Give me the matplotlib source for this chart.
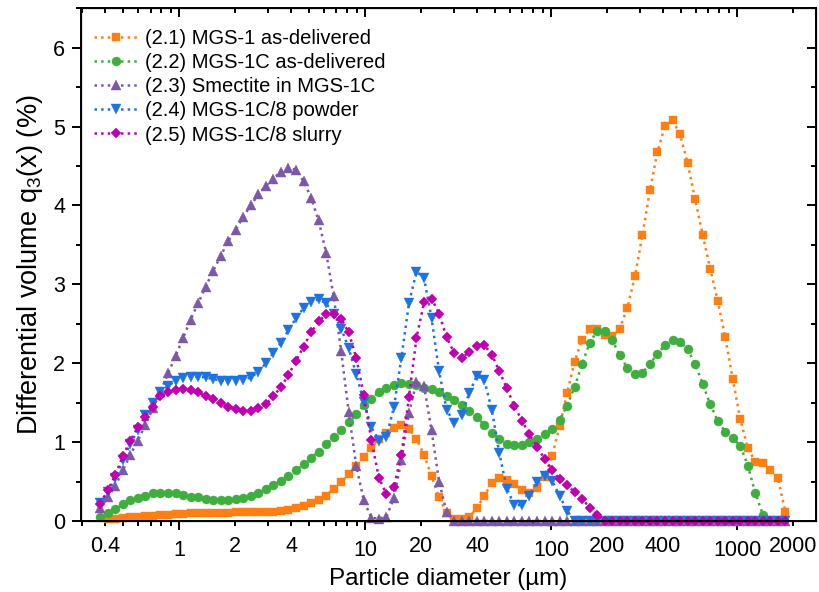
import matplotlib
matplotlib.use("Agg")  # headless backend
import matplotlib.pyplot as plt
import numpy as np
from matplotlib.ticker import FixedLocator, FuncFormatter, MultipleLocator, NullFormatter

plt.rcParams["font.family"] = ["Liberation Sans", "DejaVu Sans"]
plt.rcParams["mathtext.fontset"] = "custom"
plt.rcParams["mathtext.rm"] = "Liberation Sans"
plt.rcParams["mathtext.it"] = "Liberation Sans:italic"

nan = np.nan

# ---- data: particle size channels (um) and q3 values (%) ----
diameter = [
    0.375, 0.412, 0.452, 0.496, 0.545, 0.598, 0.657, 0.721, 0.791, 0.869,
    0.954, 1.047, 1.149, 1.261, 1.385, 1.520, 1.669, 1.832, 2.011, 2.208,
    2.423, 2.660, 2.920, 3.206, 3.519, 3.863, 4.241, 4.656, 5.111, 5.611,
    6.159, 6.761, 7.422, 8.148, 8.944, 9.819, 10.78, 11.83, 12.99, 14.26,
    15.65, 17.18, 18.86, 20.71, 22.73, 24.95, 27.39, 30.07, 33.01, 36.24,
    39.78, 43.67, 47.94, 52.62, 57.77, 63.42, 69.62, 76.43, 83.90, 92.10,
    101.1, 111.0, 121.8, 133.7, 146.8, 161.2, 176.8, 194.2, 213.2, 234.0,
    256.9, 282.1, 309.6, 339.9, 373.1, 409.6, 449.7, 493.6, 541.9, 594.9,
    653.0, 716.9, 786.9, 863.9, 948.3, 1041, 1143, 1255, 1377, 1512,
    1660, 1822,
]

mgs1 = [
    nan, 0.025, 0.03, 0.04, 0.045, 0.05, 0.06, 0.065, 0.07, 0.08,
    0.085, 0.09, 0.095, 0.10, 0.105, 0.105, 0.105, 0.105, 0.11, 0.11,
    0.11, 0.11, 0.11, 0.115, 0.125, 0.14, 0.16, 0.19, 0.23, 0.27,
    0.32, 0.41, 0.49, 0.60, 0.70, 0.81, 0.92, 1.04, 1.11, 1.18,
    1.22, 1.17, 1.04, 0.84, 0.57, 0.30, 0.10, 0.02, 0.02, 0.05,
    0.16, 0.32, 0.48, 0.55, 0.52, 0.47, 0.39, 0.36, 0.42, 0.56,
    0.82, 1.20, 1.62, 2.02, 2.30, 2.43, 2.43, 2.36, 2.34, 2.44,
    2.70, 3.10, 3.62, 4.19, 4.68, 5.01, 5.08, 4.90, 4.54, 4.08,
    3.63, 3.20, 2.79, 2.33, 1.80, 1.29, 0.92, 0.75, 0.74, 0.64,
    0.54, 0.11,
]

mgs1c = [
    0.055, 0.105, 0.15, 0.21, 0.26, 0.29, 0.32, 0.35, 0.355, 0.355,
    0.35, 0.33, 0.31, 0.30, 0.28, 0.27, 0.265, 0.27, 0.28, 0.29,
    0.32, 0.36, 0.40, 0.45, 0.51, 0.57, 0.64, 0.72, 0.80, 0.88,
    0.97, 1.06, 1.15, 1.25, 1.35, 1.47, 1.55, 1.63, 1.69, 1.73,
    1.745, 1.74, 1.72, 1.69, 1.67, 1.63, 1.59, 1.53, 1.47, 1.40,
    1.32, 1.22, 1.12, 1.04, 0.98, 0.96, 0.96, 1.00, 1.04, 1.10,
    1.16, 1.28, 1.46, 1.70, 1.99, 2.26, 2.41, 2.41, 2.29, 2.10,
    1.94, 1.86, 1.88, 1.99, 2.12, 2.23, 2.29, 2.27, 2.18, 1.99,
    1.74, 1.48, 1.27, 1.13, 1.05, 0.955, 0.70, 0.35, 0.08, nan,
    nan, nan,
]

smectite = [
    0.16, 0.30, 0.44, 0.64, 0.84, 1.02, 1.22, 1.43, 1.64, 1.87,
    2.09, 2.32, 2.55, 2.76, 2.97, 3.17, 3.36, 3.55, 3.69, 3.86,
    4.00, 4.14, 4.25, 4.34, 4.43, 4.48, 4.45, 4.31, 4.10, 3.81,
    3.40, 2.85, 2.15, 1.38, 0.70, 0.26, 0.04, 0.03, 0.05, 0.29,
    0.77, 1.37, 1.76, 1.71, 1.15, 0.50, 0.11, 0.0, 0.0, 0.0,
    0.0, 0.0, 0.0, 0.0, 0.0, 0.0, 0.0, 0.0, 0.0, 0.0,
    0.0, 0.0, 0.0, 0.0, 0.0, 0.0, 0.0, 0.0, 0.0, 0.0,
    0.0, 0.0, 0.0, 0.0, 0.0, 0.0, 0.0, 0.0, 0.0, 0.0,
    0.0, 0.0, 0.0, 0.0, 0.0, 0.0, 0.0, 0.0, 0.0, 0.0,
    0.0, 0.0,
]

powder = [
    0.23, 0.37, 0.54, 0.77, 0.98, 1.15, 1.34, 1.49, 1.63, 1.71,
    1.78, 1.81, 1.83, 1.83, 1.82, 1.80, 1.78, 1.78, 1.77, 1.79,
    1.82, 1.89, 2.00, 2.13, 2.26, 2.42, 2.57, 2.70, 2.78, 2.81,
    2.76, 2.63, 2.44, 2.19, 1.86, 1.51, 1.19, 1.02, 1.07, 1.44,
    2.07, 2.76, 3.16, 3.08, 2.57, 1.90, 1.41, 1.24, 1.34, 1.62,
    1.84, 1.79, 1.41, 0.86, 0.41, 0.20, 0.20, 0.32, 0.49, 0.57,
    0.51, 0.32, 0.13, 0.0, 0.0, 0.0, 0.0, 0.0, 0.0, 0.0,
    0.0, 0.0, 0.0, 0.0, 0.0, 0.0, 0.0, 0.0, 0.0, 0.0,
    0.0, 0.0, 0.0, 0.0, 0.0, 0.0, 0.0, 0.0, 0.0, 0.0,
    0.0, 0.0,
]

slurry = [
    0.22, 0.39, 0.58, 0.82, 1.02, 1.19, 1.32, 1.45, 1.58, 1.63,
    1.66, 1.67, 1.66, 1.63, 1.59, 1.54, 1.49, 1.45, 1.42, 1.40,
    1.40, 1.43, 1.48, 1.58, 1.70, 1.85, 2.03, 2.21, 2.39, 2.53,
    2.62, 2.63, 2.56, 2.39, 2.07, 1.60, 1.03, 0.55, 0.34, 0.43,
    0.84, 1.57, 2.32, 2.77, 2.82, 2.63, 2.33, 2.13, 2.07, 2.14,
    2.22, 2.23, 2.11, 1.90, 1.68, 1.46, 1.27, 1.10, 0.94, 0.79,
    0.65, 0.53, 0.45, 0.37, 0.28, 0.17, 0.07, 0.0, 0.0, 0.0,
    0.0, 0.0, 0.0, 0.0, 0.0, 0.0, 0.0, 0.0, 0.0, 0.0,
    0.0, 0.0, 0.0, 0.0, 0.0, 0.0, 0.0, 0.0, 0.0, 0.0,
    0.0, 0.0,
]

labels = [
    "(2.1) MGS-1 as-delivered",
    "(2.2) MGS-1C as-delivered",
    "(2.3) Smectite in MGS-1C",
    "(2.4) MGS-1C/8 powder",
    "(2.5) MGS-1C/8 slurry",
]
series = [mgs1, mgs1c, smectite, powder, slurry]
colors = ["#ff7f15", "#3fae3f", "#7b58a8", "#1f72e2", "#c000b0"]
markers = ["s", "o", "^", "v", "D"]
msizes = [5.8, 6.5, 7.0, 7.0, 5.6]

fig = plt.figure(figsize=(8.19, 5.92), dpi=100)
ax = fig.add_axes([0.099, 0.12, 0.897, 0.866])

for lab, vals, c, m, ms in zip(labels, series, colors, markers, msizes):
    ax.plot(diameter, vals, linestyle=":", lw=1.8, color=c, marker=m, ms=ms,
            mec=c, mew=0.3, clip_on=False, label=lab)

ax.set_xscale("log")
ax.set_xlim(0.296, 2650)
ax.set_ylim(0, 6.5)

major_x = [1, 10, 100, 1000]
minor_x = [v * d for d in (0.1, 1, 10, 100, 1000) for v in range(2, 10)]
minor_x = [v for v in minor_x if 0.296 < v < 2650]
minor_lab = {0.4: "0.4", 2: "2", 4: "4", 20: "20", 40: "40",
             200: "200", 400: "400", 2000: "2000"}

ax.xaxis.set_major_locator(FixedLocator(major_x))
ax.xaxis.set_major_formatter(FuncFormatter(lambda v, p: "%g" % v))
ax.xaxis.set_minor_locator(FixedLocator(minor_x))
ax.xaxis.set_minor_formatter(FuncFormatter(lambda v, p: minor_lab.get(round(v, 6), "")))
ax.yaxis.set_major_locator(MultipleLocator(1))
ax.yaxis.set_minor_locator(MultipleLocator(0.5))

ax.tick_params(which="both", direction="out", width=1.4, labelsize=15.5,
               top=False, right=False)
ax.tick_params(which="major", length=6.5)
ax.tick_params(which="minor", length=3.5)
ax.tick_params(axis="x", which="both", pad=7)
ax.tick_params(axis="y", which="both", pad=5)
for s in ax.spines.values():
    s.set_linewidth(1.4)

# inward ticks on the top and right frame
axt = ax.twiny()
axt.set_xscale("log")
axt.set_xlim(ax.get_xlim())
axt.xaxis.set_major_locator(FixedLocator(major_x))
axt.xaxis.set_minor_locator(FixedLocator(minor_x))
axt.xaxis.set_major_formatter(NullFormatter())
axt.xaxis.set_minor_formatter(NullFormatter())
axt.tick_params(which="both", direction="in", width=1.4)
axt.tick_params(which="major", length=6.5)
axt.tick_params(which="minor", length=3.5)

axr = ax.twinx()
axr.set_ylim(ax.get_ylim())
axr.yaxis.set_major_locator(MultipleLocator(1))
axr.yaxis.set_minor_locator(MultipleLocator(0.5))
axr.yaxis.set_major_formatter(NullFormatter())
axr.tick_params(which="both", direction="in", width=1.4)
axr.tick_params(which="major", length=6.5)
axr.tick_params(which="minor", length=3.5)

ax.set_xlabel("Particle diameter (\u00b5m)", fontsize=17.5, labelpad=5)
ax.set_ylabel("Differential volume q$_3$(x) (%)", fontsize=19.5, labelpad=6)

ax.legend(loc="upper left", bbox_to_anchor=(0.0, 0.986), frameon=False,
          fontsize=14.5, handlelength=2.2, handletextpad=0.3, labelspacing=0.26,
          borderaxespad=0.25, numpoints=1)

fig.savefig("out.png", dpi=100)
